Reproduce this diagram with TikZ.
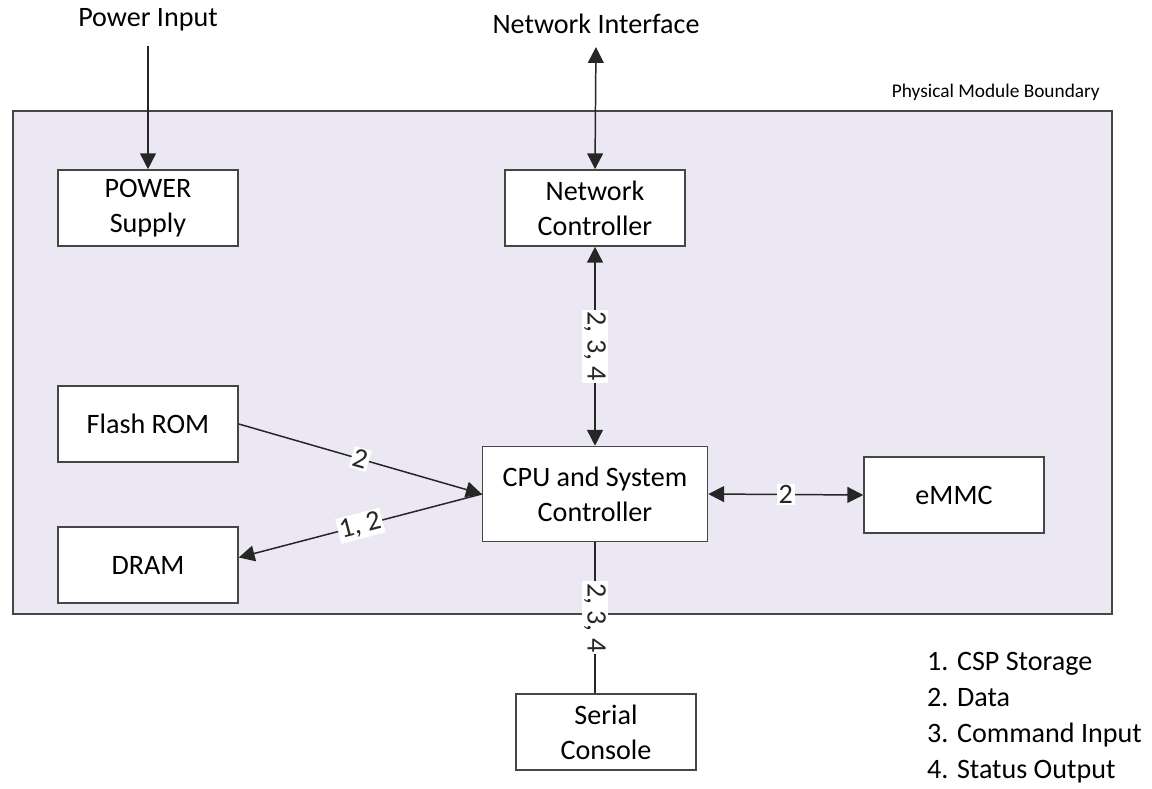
\documentclass[tikz,border=0pt]{standalone}
\usepackage{fontspec}
\setmainfont{Carlito}
\usetikzlibrary{arrows.meta}
\definecolor{modfill}{RGB}{236,232,243}
\definecolor{modline}{RGB}{70,70,70}

\begin{document}
\begin{tikzpicture}[x=0.02cm, y=-0.02cm,
		blk/.style={draw=modline, line width=0.9pt, fill=white, minimum width=3.6cm, minimum height=1.52cm, align=center, inner sep=0pt, font=\fontsize{16}{20}\selectfont},
		lbl/.style={fill=white, inner sep=1pt, font=\fontsize{16}{19}\selectfont},
		txt/.style={font=\fontsize{16}{20}\selectfont},
		tip/.style={-{Triangle[length=9pt,width=9pt]}},
		tips/.style={{Triangle[length=9pt,width=9pt]}-{Triangle[length=9pt,width=9pt]}},
		wire/.style={line width=0.85pt, color=black!85}
	]
	\useasboundingbox (0,0) rectangle (1152,788);

	% module boundary
	\draw[modline, line width=0.9pt, fill=modfill] (13,111) rectangle (1112,614);
	\node[anchor=east, font=\fontsize{11}{13}\selectfont] (bound) at (1106,92) {Physical Module Boundary};

	\node[txt] (pin) at (148,20) {Power Input};
	\node[txt] (nif) at (596,24) {Network Interface};

	\node[blk] (power) at (148,208) {POWER\\Supply};
	\node[blk] (netc) at (595,208) {Network\\Controller};
	\node[blk] (flash) at (148,424) {Flash ROM};
	\node[blk] (dram) at (148,565) {DRAM};
	\node[blk, minimum width=4.5cm, minimum height=1.9cm] (cpu) at (595,494) {CPU and System\\Controller};
	\node[blk] (emmc) at (954,495) {eMMC};
	\node[blk] (serial) at (606,732) {Serial\\Console};

	\draw[wire, tip, shorten <=5pt] (pin.south) -- (power.north);
	\draw[wire, tips, shorten <=4pt] (nif.south) -- (netc.north);
	\draw[wire, tips] (netc.south) -- node[lbl, rotate=-90] {2, 3, 4} (cpu.north);
	\draw[wire, tip] (flash.east) -- node[lbl, sloped] {2} (cpu.west);
	\draw[wire, tip] (cpu.west) -- node[lbl, sloped] {1, 2} ([yshift=0.15cm]dram.east);
	\draw[wire, tips] (cpu.east) -- node[lbl] {2} (emmc.west);
	\draw[wire] (cpu.south) -- node[lbl, rotate=-90] {2, 3, 4} (cpu.south |- serial.north);

	% legend
	\node[anchor=west, align=left, font=\fontsize{16}{20.5}\selectfont] (legend) at (921,718) {1. CSP Storage\\2. Data\\3. Command Input\\4. Status Output};

\end{tikzpicture}
\end{document}
